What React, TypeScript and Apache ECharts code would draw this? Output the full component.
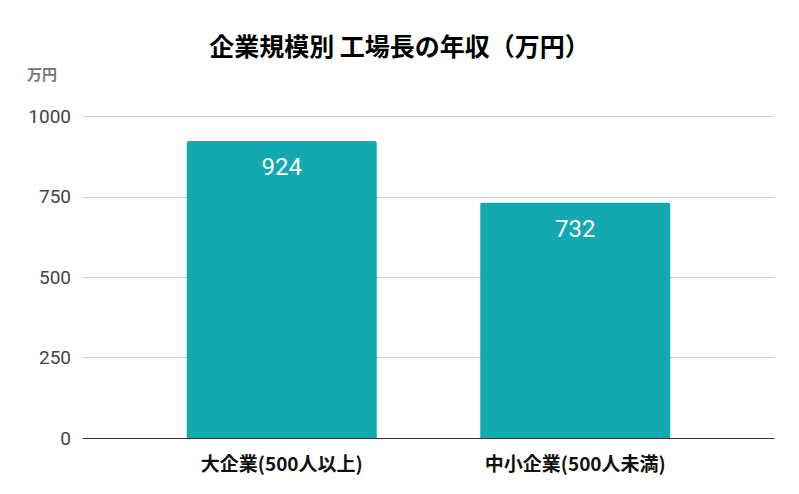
import React, { useEffect, useRef } from 'react';
import * as echarts from 'echarts';

const categories = ['大企業(500人以上)', '中小企業(500人未満)'];
const salaries = [924, 732];
const yTicks = [0, 250, 500, 750, 1000];

const title = '企業規模別 工場長の年収（万円）';
const unit = '万円';
const barColor = '#12a9b0';
const cjk = '"Noto Sans CJK JP", "Noto Sans", sans-serif';

export default function App(): JSX.Element {
    const chartRef = useRef<HTMLDivElement>(null);

    useEffect(() => {
        if (chartRef.current === null) return;
        const chart = echarts.init(chartRef.current, undefined, { renderer: 'svg' });

        const option: echarts.EChartsOption = {
            animation: false,
            backgroundColor: '#fff',
            title: {
                text: title,
                left: 'center',
                top: 27,
                textStyle: { fontFamily: cjk, fontSize: 25, fontWeight: 'bold', color: '#000' },
            },
            graphic: [
                {
                    type: 'text',
                    left: 27,
                    top: 66,
                    style: { text: unit, fontFamily: cjk, fontSize: 15, fontWeight: 'bold', fill: '#777' },
                },
            ],
            grid: [
                // gridlines + y labels (wide)
                { left: 83, right: 25, top: 116.5, bottom: 56 },
                // bars (narrower)
                { left: 135, right: 77, top: 116.5, bottom: 56 },
            ],
            xAxis: [
                {
                    type: 'category',
                    gridIndex: 0,
                    data: [''],
                    axisLine: { show: true, lineStyle: { color: '#333', width: 1 } },
                    axisTick: { show: false },
                    axisLabel: { show: false },
                },
                {
                    type: 'category',
                    gridIndex: 1,
                    data: categories,
                    axisLine: { show: false },
                    axisTick: { show: false },
                    axisLabel: {
                        margin: 15,
                        fontFamily: cjk,
                        fontSize: 19,
                        fontWeight: 'bold',
                        color: '#111',
                    },
                },
            ],
            yAxis: [
                {
                    type: 'value',
                    gridIndex: 0,
                    min: yTicks[0],
                    max: yTicks[yTicks.length - 1],
                    interval: 250,
                    axisLine: { show: false },
                    axisTick: { show: false },
                    axisLabel: {
                        margin: 12,
                        formatter: (v: number) => String(v),
                        fontFamily: 'Roboto, sans-serif',
                        fontSize: 19,
                        color: '#444',
                    },
                    splitLine: { lineStyle: { color: '#ccc', width: 1 } },
                },
                {
                    type: 'value',
                    gridIndex: 1,
                    min: yTicks[0],
                    max: yTicks[yTicks.length - 1],
                    interval: 250,
                    show: false,
                    splitLine: { show: false },
                },
            ],
            series: [
                {
                    type: 'bar',
                    xAxisIndex: 1,
                    yAxisIndex: 1,
                    data: salaries,
                    barWidth: 190,
                    itemStyle: { color: barColor, borderRadius: [2, 2, 0, 0] },
                    label: {
                        show: true,
                        position: 'insideTop',
                        distance: 14,
                        fontFamily: 'Roboto, sans-serif',
                        fontSize: 24,
                        color: '#fff',
                    },
                },
            ],
        };

        chart.setOption(option);
        return () => {
            chart.dispose();
        };
    }, []);

    return (
        <div
            ref={chartRef}
            style={{ position: 'fixed', left: 0, top: 0, width: 799, height: 494 }}
        />
    );
}
